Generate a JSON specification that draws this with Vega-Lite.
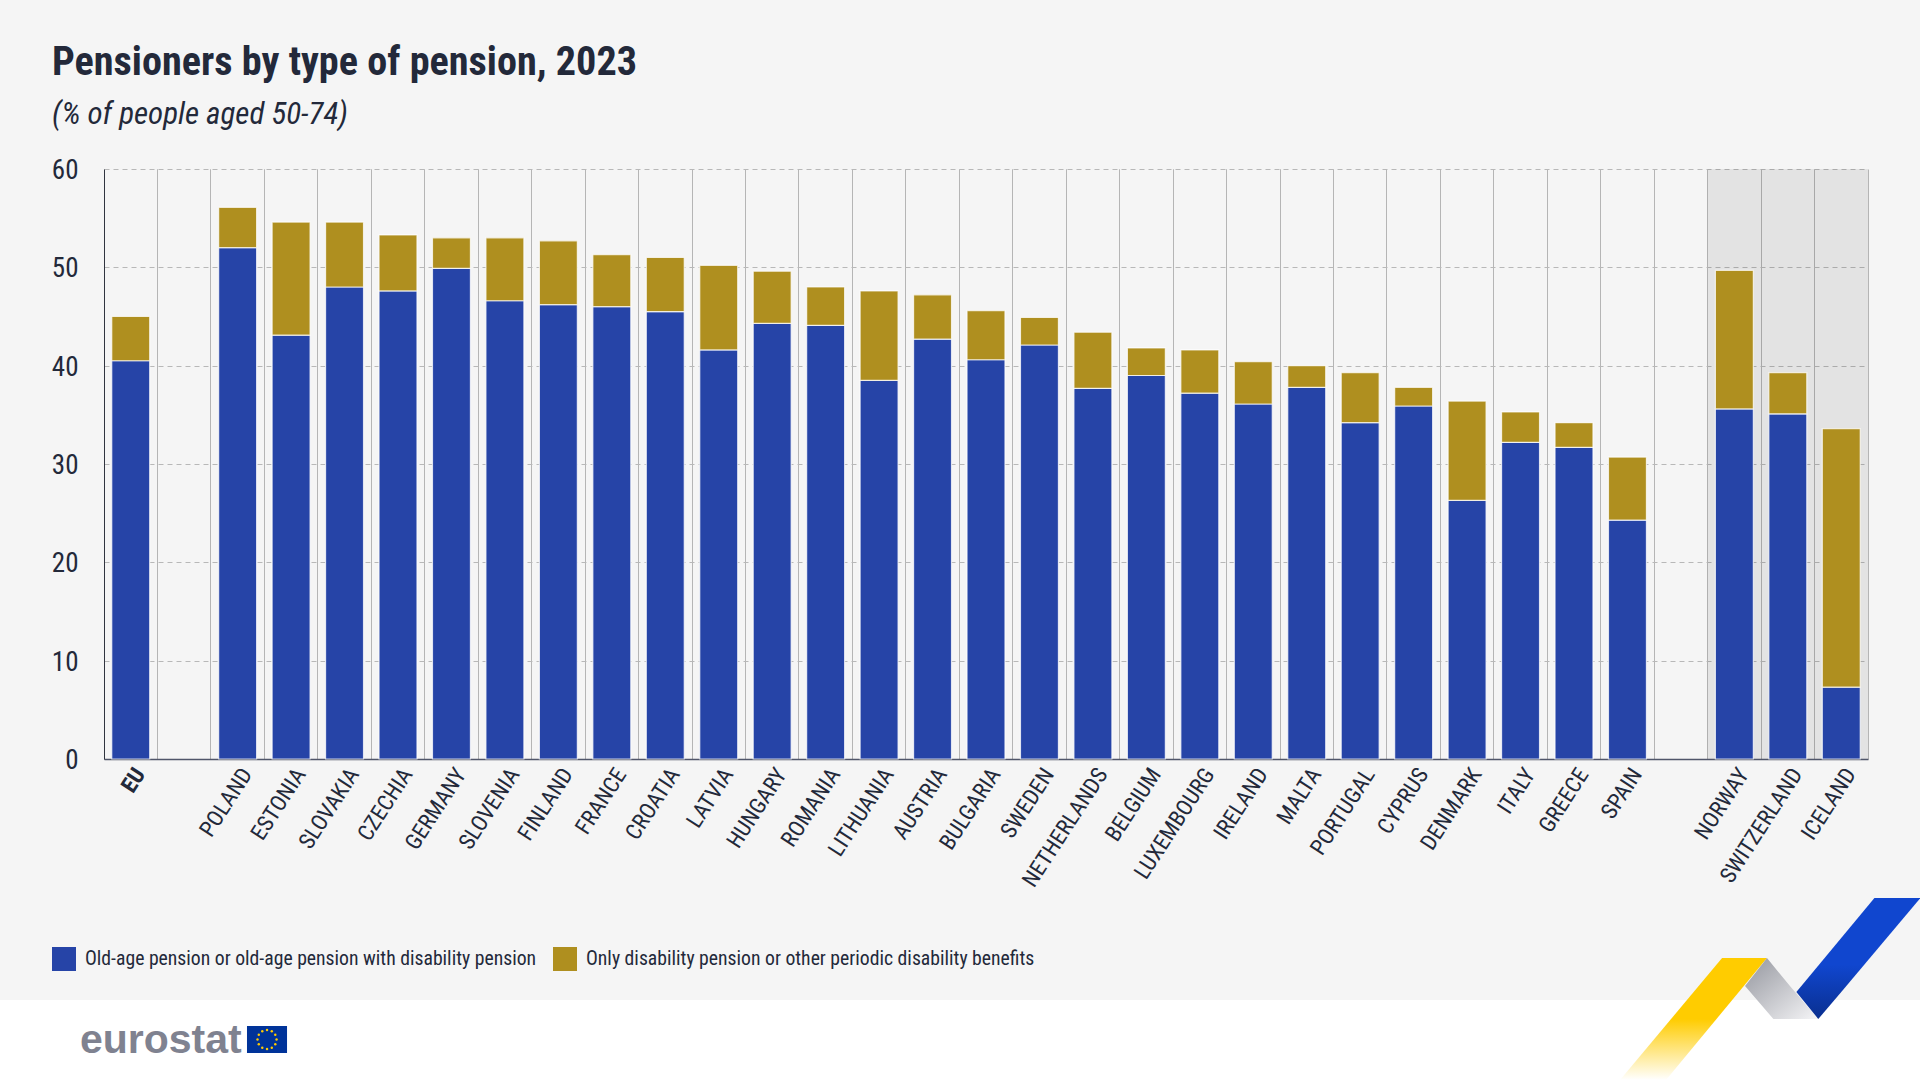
{
  "$schema": "https://vega.github.io/schema/vega-lite/v6.json",
  "width": 1764,
  "height": 590,
  "autosize": {"type": "none"},
  "padding": {"left": 104, "top": 169, "right": 52, "bottom": 321},
  "background": "#f5f5f5",
  "config": {
    "font": "Roboto Condensed",
    "view": {"stroke": null}
  },
  "title": {
    "text": "Pensioners by type of pension, 2023",
    "subtitle": "(% of people aged 50-74)",
    "anchor": "start",
    "frame": "group",
    "dx": -52,
    "offset": 27,
    "font": "Roboto Condensed",
    "fontSize": 40.2,
    "fontWeight": "bold",
    "color": "#23293a",
    "subtitleFont": "Roboto Condensed",
    "subtitleFontSize": 31,
    "subtitleFontStyle": "italic",
    "subtitleColor": "#23293a",
    "subtitlePadding": 16
  },
  "datasets": {
    "pensions": [
      {"country": "EU", "pension": "Old-age pension or old-age pension with disability pension", "share": 40.5},
      {"country": "EU", "pension": "Only disability pension or other periodic disability benefits", "share": 4.5},
      {"country": "POLAND", "pension": "Old-age pension or old-age pension with disability pension", "share": 52.0},
      {"country": "POLAND", "pension": "Only disability pension or other periodic disability benefits", "share": 4.1},
      {"country": "ESTONIA", "pension": "Old-age pension or old-age pension with disability pension", "share": 43.1},
      {"country": "ESTONIA", "pension": "Only disability pension or other periodic disability benefits", "share": 11.5},
      {"country": "SLOVAKIA", "pension": "Old-age pension or old-age pension with disability pension", "share": 48.0},
      {"country": "SLOVAKIA", "pension": "Only disability pension or other periodic disability benefits", "share": 6.6},
      {"country": "CZECHIA", "pension": "Old-age pension or old-age pension with disability pension", "share": 47.6},
      {"country": "CZECHIA", "pension": "Only disability pension or other periodic disability benefits", "share": 5.7},
      {"country": "GERMANY", "pension": "Old-age pension or old-age pension with disability pension", "share": 49.9},
      {"country": "GERMANY", "pension": "Only disability pension or other periodic disability benefits", "share": 3.1},
      {"country": "SLOVENIA", "pension": "Old-age pension or old-age pension with disability pension", "share": 46.6},
      {"country": "SLOVENIA", "pension": "Only disability pension or other periodic disability benefits", "share": 6.4},
      {"country": "FINLAND", "pension": "Old-age pension or old-age pension with disability pension", "share": 46.2},
      {"country": "FINLAND", "pension": "Only disability pension or other periodic disability benefits", "share": 6.5},
      {"country": "FRANCE", "pension": "Old-age pension or old-age pension with disability pension", "share": 46.0},
      {"country": "FRANCE", "pension": "Only disability pension or other periodic disability benefits", "share": 5.3},
      {"country": "CROATIA", "pension": "Old-age pension or old-age pension with disability pension", "share": 45.5},
      {"country": "CROATIA", "pension": "Only disability pension or other periodic disability benefits", "share": 5.5},
      {"country": "LATVIA", "pension": "Old-age pension or old-age pension with disability pension", "share": 41.6},
      {"country": "LATVIA", "pension": "Only disability pension or other periodic disability benefits", "share": 8.6},
      {"country": "HUNGARY", "pension": "Old-age pension or old-age pension with disability pension", "share": 44.3},
      {"country": "HUNGARY", "pension": "Only disability pension or other periodic disability benefits", "share": 5.3},
      {"country": "ROMANIA", "pension": "Old-age pension or old-age pension with disability pension", "share": 44.1},
      {"country": "ROMANIA", "pension": "Only disability pension or other periodic disability benefits", "share": 3.9},
      {"country": "LITHUANIA", "pension": "Old-age pension or old-age pension with disability pension", "share": 38.5},
      {"country": "LITHUANIA", "pension": "Only disability pension or other periodic disability benefits", "share": 9.1},
      {"country": "AUSTRIA", "pension": "Old-age pension or old-age pension with disability pension", "share": 42.7},
      {"country": "AUSTRIA", "pension": "Only disability pension or other periodic disability benefits", "share": 4.5},
      {"country": "BULGARIA", "pension": "Old-age pension or old-age pension with disability pension", "share": 40.6},
      {"country": "BULGARIA", "pension": "Only disability pension or other periodic disability benefits", "share": 5.0},
      {"country": "SWEDEN", "pension": "Old-age pension or old-age pension with disability pension", "share": 42.1},
      {"country": "SWEDEN", "pension": "Only disability pension or other periodic disability benefits", "share": 2.8},
      {"country": "NETHERLANDS", "pension": "Old-age pension or old-age pension with disability pension", "share": 37.7},
      {"country": "NETHERLANDS", "pension": "Only disability pension or other periodic disability benefits", "share": 5.7},
      {"country": "BELGIUM", "pension": "Old-age pension or old-age pension with disability pension", "share": 39.0},
      {"country": "BELGIUM", "pension": "Only disability pension or other periodic disability benefits", "share": 2.8},
      {"country": "LUXEMBOURG", "pension": "Old-age pension or old-age pension with disability pension", "share": 37.2},
      {"country": "LUXEMBOURG", "pension": "Only disability pension or other periodic disability benefits", "share": 4.4},
      {"country": "IRELAND", "pension": "Old-age pension or old-age pension with disability pension", "share": 36.1},
      {"country": "IRELAND", "pension": "Only disability pension or other periodic disability benefits", "share": 4.3},
      {"country": "MALTA", "pension": "Old-age pension or old-age pension with disability pension", "share": 37.8},
      {"country": "MALTA", "pension": "Only disability pension or other periodic disability benefits", "share": 2.2},
      {"country": "PORTUGAL", "pension": "Old-age pension or old-age pension with disability pension", "share": 34.2},
      {"country": "PORTUGAL", "pension": "Only disability pension or other periodic disability benefits", "share": 5.1},
      {"country": "CYPRUS", "pension": "Old-age pension or old-age pension with disability pension", "share": 35.9},
      {"country": "CYPRUS", "pension": "Only disability pension or other periodic disability benefits", "share": 1.9},
      {"country": "DENMARK", "pension": "Old-age pension or old-age pension with disability pension", "share": 26.3},
      {"country": "DENMARK", "pension": "Only disability pension or other periodic disability benefits", "share": 10.1},
      {"country": "ITALY", "pension": "Old-age pension or old-age pension with disability pension", "share": 32.2},
      {"country": "ITALY", "pension": "Only disability pension or other periodic disability benefits", "share": 3.1},
      {"country": "GREECE", "pension": "Old-age pension or old-age pension with disability pension", "share": 31.7},
      {"country": "GREECE", "pension": "Only disability pension or other periodic disability benefits", "share": 2.5},
      {"country": "SPAIN", "pension": "Old-age pension or old-age pension with disability pension", "share": 24.3},
      {"country": "SPAIN", "pension": "Only disability pension or other periodic disability benefits", "share": 6.4},
      {"country": "NORWAY", "pension": "Old-age pension or old-age pension with disability pension", "share": 35.6},
      {"country": "NORWAY", "pension": "Only disability pension or other periodic disability benefits", "share": 14.1},
      {"country": "SWITZERLAND", "pension": "Old-age pension or old-age pension with disability pension", "share": 35.1},
      {"country": "SWITZERLAND", "pension": "Only disability pension or other periodic disability benefits", "share": 4.2},
      {"country": "ICELAND", "pension": "Old-age pension or old-age pension with disability pension", "share": 7.3},
      {"country": "ICELAND", "pension": "Only disability pension or other periodic disability benefits", "share": 26.3}
    ],
    "efta": [{"country": "NORWAY"}, {"country": "SWITZERLAND"}, {"country": "ICELAND"}],
    "footer": [{"a": -2, "b": 34, "top": -24.51, "bottom": -32.7}],
    "flag": [{"a": 2.675, "b": 3.424, "top": -27.15, "bottom": -29.9}],
    "stars": [
      {"a": 3.05, "b": -27.56}, {"a": 3.139, "b": -27.69}, {"a": 3.204, "b": -28.05}, {"a": 3.228, "b": -28.53},
      {"a": 3.204, "b": -29.01}, {"a": 3.139, "b": -29.37}, {"a": 3.05, "b": -29.5}, {"a": 2.961, "b": -29.37},
      {"a": 2.896, "b": -29.01}, {"a": 2.872, "b": -28.53}, {"a": 2.896, "b": -28.05}, {"a": 2.961, "b": -27.69}
    ],
    "logo": [{"a": -0.45, "b": -29.9, "name": "eurostat"}],
    "ribbonYellow": [{"y": -20.24, "a": 30.27, "b": 31.11}, {"y": -32.65, "a": 28.36, "b": 29.22}],
    "ribbonGrey": [{"y": -20.24, "a": 31.11, "b": 31.11}, {"y": -23.09, "a": 30.7, "b": 31.54}, {"y": -26.44, "a": 31.23, "b": 32.07}],
    "ribbonBlue": [{"y": -14.14, "a": 33.12, "b": 33.98}, {"y": -23.7, "a": 31.66, "b": 32.5}, {"y": -26.44, "a": 32.07, "b": 32.07}]
  },
  "resolve": {"scale": {"x": "independent"}, "axis": {"x": "independent", "y": "independent"}},
  "layer": [
    {
      "data": {"name": "footer"},
      "mark": {"type": "rect", "fill": "#ffffff"},
      "encoding": {
        "x": {"field": "a", "type": "quantitative", "axis": null, "scale": {"domain": [0, 33], "zero": false, "nice": false}},
        "x2": {"field": "b"},
        "y": {"field": "top", "type": "quantitative", "axis": null, "scale": {"domain": [0, 60], "nice": false}},
        "y2": {"field": "bottom"}
      }
    },
    {
      "data": {"name": "ribbonYellow"},
      "mark": {
        "type": "area",
        "orient": "horizontal",
        "fill": {
          "gradient": "linear", "x1": 0, "y1": 0, "x2": 0, "y2": 1,
          "stops": [{"offset": 0, "color": "#ffcc00"}, {"offset": 0.5, "color": "#ffcc00"}, {"offset": 1, "color": "#ffffff"}]
        }
      },
      "encoding": {
        "x": {"field": "a", "type": "quantitative", "axis": null, "stack": null, "scale": {"domain": [0, 33], "zero": false, "nice": false}},
        "x2": {"field": "b"},
        "y": {"field": "y", "type": "quantitative", "axis": null, "scale": {"domain": [0, 60], "nice": false}}
      }
    },
    {
      "data": {"name": "ribbonGrey"},
      "mark": {
        "type": "area",
        "orient": "horizontal",
        "fill": {
          "gradient": "linear", "x1": 0, "y1": 0, "x2": 1, "y2": 1,
          "stops": [{"offset": 0, "color": "#94969e"}, {"offset": 1, "color": "#f5f5f7"}]
        }
      },
      "encoding": {
        "x": {"field": "a", "type": "quantitative", "axis": null, "stack": null, "scale": {"domain": [0, 33], "zero": false, "nice": false}},
        "x2": {"field": "b"},
        "y": {"field": "y", "type": "quantitative", "axis": null, "scale": {"domain": [0, 60], "nice": false}}
      }
    },
    {
      "data": {"name": "ribbonBlue"},
      "mark": {
        "type": "area",
        "orient": "horizontal",
        "fill": {
          "gradient": "linear", "x1": 0, "y1": 0, "x2": 0, "y2": 1,
          "stops": [{"offset": 0, "color": "#1046cf"}, {"offset": 0.55, "color": "#1046cf"}, {"offset": 1, "color": "#0a2f8f"}]
        }
      },
      "encoding": {
        "x": {"field": "a", "type": "quantitative", "axis": null, "stack": null, "scale": {"domain": [0, 33], "zero": false, "nice": false}},
        "x2": {"field": "b"},
        "y": {"field": "y", "type": "quantitative", "axis": null, "scale": {"domain": [0, 60], "nice": false}}
      }
    },
    {
      "data": {"name": "flag"},
      "mark": {"type": "rect", "fill": "#003399"},
      "encoding": {
        "x": {"field": "a", "type": "quantitative", "axis": null, "scale": {"domain": [0, 33], "zero": false, "nice": false}},
        "x2": {"field": "b"},
        "y": {"field": "top", "type": "quantitative", "axis": null, "scale": {"domain": [0, 60], "nice": false}},
        "y2": {"field": "bottom"}
      }
    },
    {
      "data": {"name": "stars"},
      "mark": {"type": "point", "filled": true, "shape": "circle", "size": 6, "color": "#ffcc00", "opacity": 1},
      "encoding": {
        "x": {"field": "a", "type": "quantitative", "axis": null, "scale": {"domain": [0, 33], "zero": false, "nice": false}},
        "y": {"field": "b", "type": "quantitative", "axis": null, "scale": {"domain": [0, 60], "nice": false}}
      }
    },
    {
      "data": {"name": "logo"},
      "mark": {"type": "text", "font": "Liberation Sans", "fontWeight": "bold", "fontSize": 41, "align": "left", "baseline": "alphabetic", "color": "#7f8290"},
      "encoding": {
        "x": {"field": "a", "type": "quantitative", "axis": null, "scale": {"domain": [0, 33], "zero": false, "nice": false}},
        "y": {"field": "b", "type": "quantitative", "axis": null, "scale": {"domain": [0, 60], "nice": false}},
        "text": {"field": "name"}
      }
    },
    {
      "data": {"name": "efta"},
      "mark": {"type": "bar", "width": {"band": 1}, "fill": "#000000", "opacity": 0.07},
      "encoding": {
        "x": {
          "field": "country",
          "type": "nominal",
          "sort": null,
          "scale": {"domain": ["EU", " ", "POLAND", "ESTONIA", "SLOVAKIA", "CZECHIA", "GERMANY", "SLOVENIA", "FINLAND", "FRANCE", "CROATIA", "LATVIA", "HUNGARY", "ROMANIA", "LITHUANIA", "AUSTRIA", "BULGARIA", "SWEDEN", "NETHERLANDS", "BELGIUM", "LUXEMBOURG", "IRELAND", "MALTA", "PORTUGAL", "CYPRUS", "DENMARK", "ITALY", "GREECE", "SPAIN", "  ", "NORWAY", "SWITZERLAND", "ICELAND"], "padding": 0},
          "axis": {
            "orient": "top",
            "title": null,
            "labels": false,
            "ticks": false,
            "domain": false,
            "bandPosition": 1,
            "grid": true,
            "gridColor": "#b5b5b5",
            "gridWidth": 1
          }
        },
        "y": {"datum": 60, "type": "quantitative", "axis": null, "scale": {"domain": [0, 60], "nice": false}},
        "y2": {"datum": 0}
      }
    },
    {
      "data": {"name": "pensions"},
      "mark": {"type": "bar", "width": {"band": 0.71}, "stroke": "#ffffff", "strokeWidth": 1.2, "strokeOpacity": 0.75},
      "encoding": {
        "x": {
          "field": "country",
          "type": "nominal",
          "sort": null,
          "scale": {"domain": ["EU", " ", "POLAND", "ESTONIA", "SLOVAKIA", "CZECHIA", "GERMANY", "SLOVENIA", "FINLAND", "FRANCE", "CROATIA", "LATVIA", "HUNGARY", "ROMANIA", "LITHUANIA", "AUSTRIA", "BULGARIA", "SWEDEN", "NETHERLANDS", "BELGIUM", "LUXEMBOURG", "IRELAND", "MALTA", "PORTUGAL", "CYPRUS", "DENMARK", "ITALY", "GREECE", "SPAIN", "  ", "NORWAY", "SWITZERLAND", "ICELAND"], "padding": 0},
          "axis": {
            "orient": "bottom",
            "title": null,
            "ticks": false,
            "bandPosition": 0,
            "labelAngle": -57,
            "labelAlign": "right",
            "labelBaseline": "middle",
            "labelOffset": 9.5,
            "labelPadding": 11,
            "labelFontSize": 22.5,
            "labelColor": "#23293a",
            "labelLimit": 300,
            "labelOverlap": false,
            "labelFontWeight": {"condition": {"test": "datum.value === 'EU'", "value": "bold"}, "value": "normal"},
            "domainColor": "#50566a",
            "domainWidth": 1.5,
            "grid": true,
            "gridColor": "#b5b5b5",
            "gridWidth": 1
          }
        },
        "y": {
          "field": "share",
          "type": "quantitative",
          "stack": "zero",
          "scale": {"domain": [0, 60], "nice": false},
          "axis": {
            "title": null,
            "values": [0, 10, 20, 30, 40, 50, 60],
            "ticks": false,
            "labelPadding": 26,
            "labelFontSize": 27,
            "labelOffset": 1.5,
            "labelColor": "#23293a",
            "domainColor": "#30343f",
            "domainWidth": 1,
            "grid": true,
            "gridColor": "#b8b8b8",
            "gridDash": [5, 4],
            "gridWidth": 1
          }
        },
        "color": {
          "field": "pension",
          "type": "nominal",
          "scale": {
            "domain": ["Old-age pension or old-age pension with disability pension", "Only disability pension or other periodic disability benefits"],
            "range": ["#2644a7", "#af8f1f"]
          },
          "legend": {
            "orient": "none",
            "legendX": -52,
            "legendY": 778,
            "direction": "horizontal",
            "columns": 2,
            "title": null,
            "symbolType": "square",
            "symbolSize": 576,
            "symbolStrokeWidth": 0,
            "symbolOpacity": 1,
            "labelFontSize": 19.7,
            "labelColor": "#23293a",
            "labelLimit": 700,
            "labelOffset": 9,
            "columnPadding": 16
          }
        },
        "order": {"field": "pension", "sort": "ascending"}
      }
    }
  ]
}
